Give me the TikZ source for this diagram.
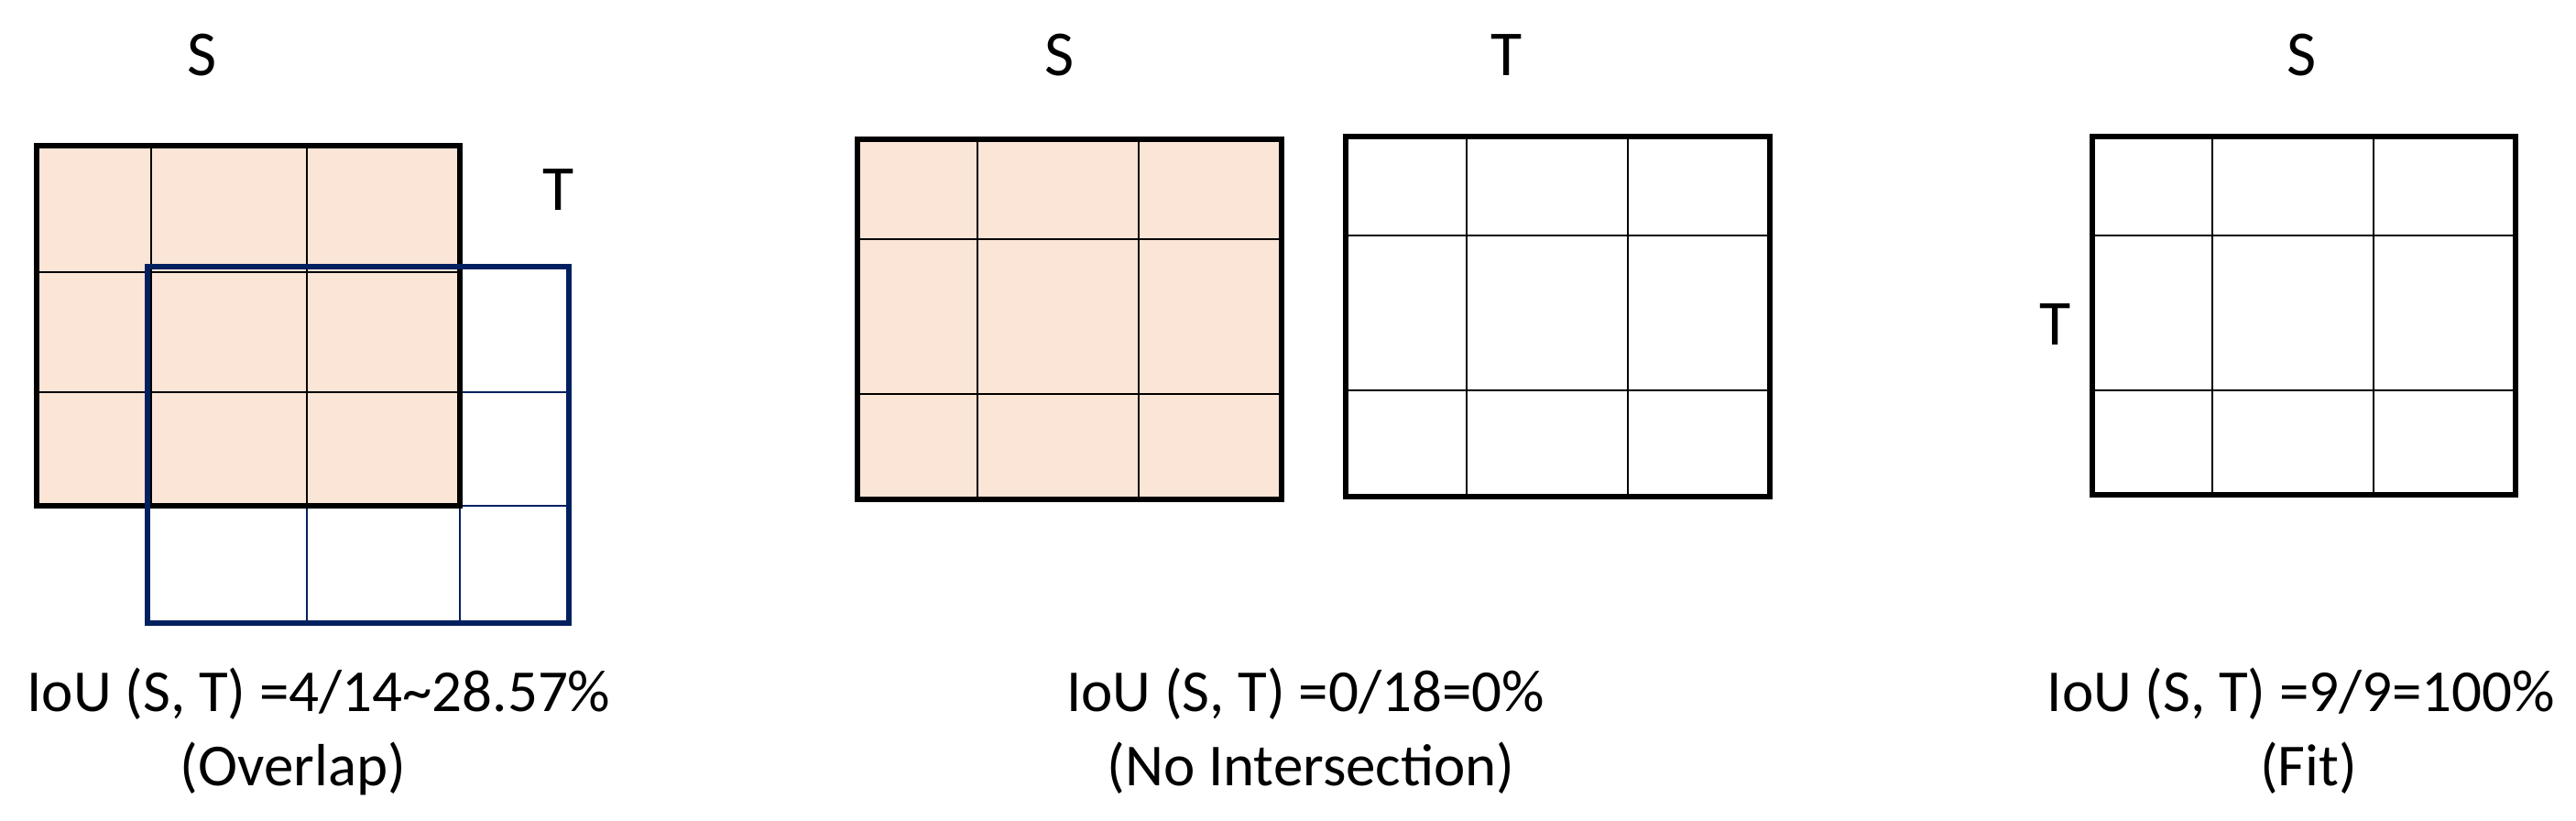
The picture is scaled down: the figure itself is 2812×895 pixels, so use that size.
\documentclass[tikz,border=0pt]{standalone}
\usepackage{fontspec}
\setmainfont{Carlito}
\definecolor{peach}{HTML}{FBE5D6}
\definecolor{navy}{HTML}{002060}
\begin{document}
\begin{tikzpicture}[x=0.5pt,y=-0.5pt,
  lbl/.style={font=\fontsize{35}{42}\selectfont, anchor=base, inner sep=0pt},
  captxt/.style={font=\fontsize{32.5}{39}\selectfont, anchor=base, inner sep=0pt},
  outerline/.style={draw=black, line width=2.7pt},
  innerline/.style={draw=black, line width=1.1pt},
  bouter/.style={draw=navy, line width=2.7pt},
  binner/.style={draw=navy, line width=0.8pt}]
\useasboundingbox (0,0) rectangle (2812,895);

% ---------- Panel 1: overlap ----------
\fill[peach] (40,159) rectangle (502,552);
\draw[binner] (335,291) -- (335,680) (502,291) -- (502,680)
              (161,428) -- (621,428) (161,552) -- (621,552);
\draw[innerline] (165,159) -- (165,552) (335,159) -- (335,552)
                 (40,297) -- (502,297) (40,428) -- (502,428);
\draw[outerline] (40,159) rectangle (502,552);
\draw[bouter] (161,291) rectangle (621,680);
\node[lbl] (s1) at (221,82) {S};
\node[lbl] (t1) at (610,229) {T};
\node[captxt] (c1a) at (348,776) {IoU (S, T) =4/14\textasciitilde 28.57\%};
\node[captxt] (c1b) at (320,857) {(Overlap)};

% ---------- Panel 2: no intersection ----------
\fill[peach] (936,152) rectangle (1399,545);
\draw[innerline] (1067,152) -- (1067,545) (1243,152) -- (1243,545)
                 (936,261) -- (1399,261) (936,430) -- (1399,430);
\draw[outerline] (936,152) rectangle (1399,545);
\draw[innerline] (1601,149) -- (1601,542) (1777,149) -- (1777,542)
                 (1469,257) -- (1932,257) (1469,426) -- (1932,426);
\draw[outerline] (1469,149) rectangle (1932,542);
\node[lbl] (s2) at (1157,82) {S};
\node[lbl] (t2) at (1645,82) {T};
\node[captxt] (c2a) at (1425,776) {IoU (S, T) =0/18=0\%};
\node[captxt] (c2b) at (1431,857) {(No Intersection)};

% ---------- Panel 3: fit ----------
\draw[innerline] (2415,149) -- (2415,540) (2591,149) -- (2591,540)
                 (2284,257) -- (2746,257) (2284,426) -- (2746,426);
\draw[outerline] (2284,149) rectangle (2746,540);
\node[lbl] (s3) at (2513,82) {S};
\node[lbl] (t3) at (2244,376) {T};
\node[captxt] (c3a) at (2512,776) {IoU (S, T) =9/9=100\%};
\node[captxt] (c3b) at (2520,857) {(Fit)};
\end{tikzpicture}
\end{document}
